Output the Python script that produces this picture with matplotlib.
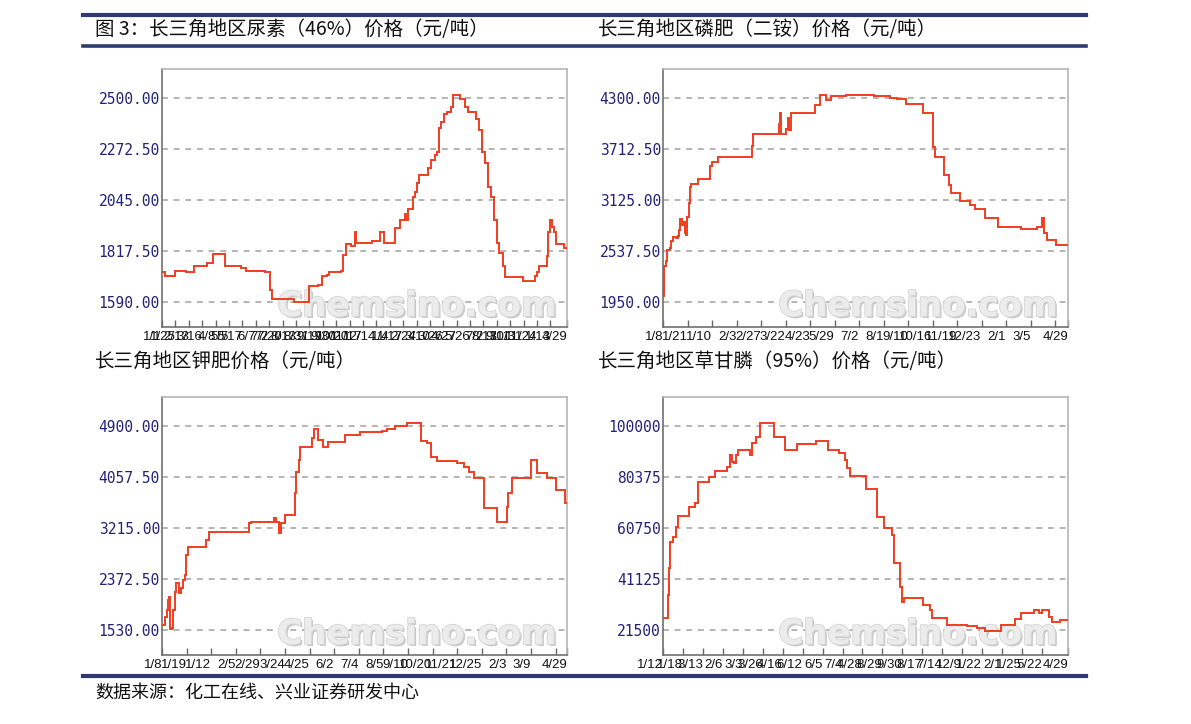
import numpy as np
import matplotlib
matplotlib.use("Agg")
import matplotlib.pyplot as plt
import matplotlib.patheffects as pe

plt.rcParams['font.family'] = ['Noto Sans CJK SC', 'DejaVu Sans']

# ---------------- data ----------------
titles = ["图 3：长三角地区尿素（46%）价格（元/吨）",
          "长三角地区磷肥（二铵）价格（元/吨）",
          "长三角地区钾肥价格（元/吨）",
          "长三角地区草甘膦（95%）价格（元/吨）"]
source = "数据来源：化工在线、兴业证券研发中心"

# Urea (46%)
urea_idx = [0, 3, 13, 24, 32, 44, 50, 62, 78, 83, 102, 107, 109, 130, 145, 154, 158, 163,
            165, 177, 179, 182, 187, 191, 192, 207, 215, 219, 230, 235, 240, 241, 243, 248,
            250, 252, 254, 263, 266, 270, 272, 274, 276, 279, 281, 285, 287, 294, 299, 302,
            310, 313, 316, 319, 322, 325, 328, 331, 333, 337, 339, 357, 368, 370, 372, 380,
            381, 383, 385, 387, 389, 397]
urea_val = [1726, 1704, 1729, 1722, 1749, 1763, 1803, 1749, 1741, 1729, 1723, 1645, 1603,
            1589, 1660, 1667, 1707, 1712, 1723, 1729, 1800, 1848, 1842, 1904, 1852, 1863,
            1904, 1852, 1922, 1956, 1983, 1956, 2005, 2060, 2082, 2119, 2156, 2186, 2223,
            2245, 2260, 2364, 2393, 2430, 2438, 2460, 2512, 2497, 2460, 2438, 2408, 2356,
            2260, 2208, 2104, 2057, 1956, 1852, 1808, 1749, 1701, 1682, 1704, 1726, 1749,
            1793, 1904, 1956, 1926, 1901, 1849, 1830]
urea_labels = ["1/1", "1/25", "2/13", "3/16", "4/8", "5/5", "5/17", "6/7", "7/2", "7/20",
               "8/13", "8/31", "9/19", "9/30", "10/20", "11/17", "12/14", "1/4", "1/17",
               "2/24", "3/10", "3/26", "4/27", "5/26", "7/2", "8/13", "9/11", "10/31",
               "11/24", "1/13", "4/29"]
urea_ticks = [1590, 1817.5, 2045, 2272.5, 2500]
urea_ylim = (1478.5, 2629.4)

# DAP
dap_idx = [0, 1, 3, 4, 7, 8, 10, 13, 15, 16, 17, 19, 21, 22, 23, 24, 26, 27, 28, 35, 46,
           48, 54, 88, 89, 115, 116, 117, 121, 123, 124, 126, 150, 155, 161, 166, 181, 208,
           224, 231, 240, 257, 267, 269, 278, 282, 284, 293, 303, 308, 318, 331, 354, 369,
           374, 376, 379, 388]
dap_val = [2023, 2360, 2417, 2551, 2570, 2647, 2704, 2685, 2712, 2781, 2903, 2838, 2876,
           2742, 2723, 2934, 3087, 3278, 3309, 3366, 3515, 3565, 3615, 3745, 3883, 4005,
           4128, 3883, 3948, 4074, 3929, 4128, 4216, 4331, 4281, 4319, 4334, 4319, 4304,
           4292, 4235, 4128, 3737, 3623, 3412, 3297, 3209, 3117, 3068, 3022, 2915, 2819,
           2792, 2811, 2915, 2742, 2666, 2609]
dap_labels = ["1/8", "1/21", "1/10", "2/3", "2/27", "3/22", "4/23", "5/29", "7/2", "8/1",
              "9/10", "10/16", "11/19", "12/23", "2/1", "3/5", "", "4/29"]
dap_ticks = [1950, 2537.5, 3125, 3712.5, 4300]
dap_ylim = (1662, 4634)

# Potash
pot_idx = [0, 3, 5, 6, 7, 8, 10, 11, 13, 14, 17, 19, 21, 23, 24, 26, 43, 46, 86, 88, 111,
           113, 116, 118, 121, 131, 132, 135, 136, 148, 150, 154, 159, 164, 181, 196, 217,
           222, 230, 242, 256, 262, 266, 272, 291, 298, 303, 308, 318, 331, 341, 342, 346,
           364, 370, 380, 389, 398]
pot_val = [1612, 1750, 1860, 2025, 2080, 1541, 1557, 1860, 2163, 2301, 2136, 2218, 2356,
           2438, 2769, 2906, 3017, 3154, 3303, 3320, 3375, 3320, 3127, 3292, 3430, 3788,
           4146, 4338, 4559, 4696, 4845, 4669, 4559, 4641, 4751, 4806, 4823, 4845, 4900,
           4955, 4652, 4614, 4382, 4327, 4283, 4228, 4146, 4036, 3540, 3320, 3568, 3788,
           4036, 4338, 4129, 4036, 3843, 3633]
pot_labels = ["1/8", "1/19", "1/12", "2/5", "2/29", "3/24", "4/25", "6/2", "7/4", "8/5",
              "9/10", "10/20", "11/21", "12/25", "2/3", "3/9", "", "4/29"]
pot_ticks = [1530, 2372.5, 3215, 4057.5, 4900]
pot_ylim = (1117, 5379)

# Glyphosate (95%)
gly_idx = [0, 5, 6, 7, 10, 13, 15, 26, 32, 35, 45, 51, 63, 66, 68, 70, 72, 74, 86, 88, 92,
           96, 110, 120, 132, 151, 163, 174, 180, 182, 185, 200, 211, 218, 226, 228, 234,
           236, 238, 257, 264, 266, 280, 300, 310, 318, 334, 348, 354, 366, 371, 374, 381,
           384, 392]
gly_val = [25990, 34970, 45230, 55230, 57160, 61260, 65370, 68700, 70500, 78320, 80500,
           82680, 84090, 88840, 86270, 85900, 88840, 90760, 88840, 93330, 95900, 101280,
           95900, 90760, 93070, 94230, 90760, 89740, 86920, 83710, 80760, 75630, 65110,
           60620, 58060, 47410, 38180, 32400, 33950, 31120, 29190, 25990, 23420, 23040,
           22140, 21240, 23420, 25600, 27900, 29190, 28170, 29190, 26370, 24700, 25350]
gly_labels = ["1/12", "1/18", "3/13", "2/6", "3/3", "3/26", "4/16", "6/12", "6/5", "7/4",
              "4/28", "8/29", "9/30", "8/17", "7/14", "12/9", "1/22", "2/1", "1/25", "5/22",
              "4/29"]
gly_ticks = [21500, 41125, 60750, 80375, 100000]
gly_ylim = (11880, 111160)

N_END = 400

# ---------------- figure ----------------
W, H = 1191, 724
fig = plt.figure(figsize=(W / 100, H / 100), dpi=100)

def fx(px):
    return px / W

def fy(py):
    return 1 - py / H

navy = '#2f3a70'
line_red = '#ef3d20'
tick_navy = '#22227a'

# decorative horizontal rules
for y, lw in [(15, 3.0), (45.5, 2.6), (676, 3.0)]:
    fig.add_artist(plt.Line2D([fx(83), fx(1086)], [fy(y), fy(y)], color=navy, lw=lw))

# titles
tfs = 14
fig.text(fx(95), fy(30), titles[0], fontsize=tfs, va='center', ha='left', color='#111')
fig.text(fx(598), fy(30), titles[1], fontsize=tfs, va='center', ha='left', color='#111')
fig.text(fx(95), fy(362), titles[2], fontsize=tfs, va='center', ha='left', color='#111')
fig.text(fx(598), fy(362), titles[3], fontsize=tfs, va='center', ha='left', color='#111')
fig.text(fx(95), fy(693), source, fontsize=13, va='center', ha='left', color='#111')

panels = [
    (162, 69, urea_idx, urea_val, urea_labels, urea_ticks, urea_ylim, 13.23, '%.2f'),
    (663, 69, dap_idx, dap_val, dap_labels, dap_ticks, dap_ylim, 24.2, '%.2f'),
    (162, 397, pot_idx, pot_val, pot_labels, pot_ticks, pot_ylim, 24.3, '%.2f'),
    (663, 397, gly_idx, gly_val, gly_labels, gly_ticks, gly_ylim, 19.7, '%d'),
]

for (lpx, tpx, xi, yv, labs, yt, ylim, step, fmt) in panels:
    ax = fig.add_axes([fx(lpx), fy(tpx + 258), 405 / W, 258 / H])
    ax.set_xlim(0, N_END)
    ax.set_ylim(*ylim)
    # grid
    for v in yt:
        ax.axhline(v, color='#a8a8a8', lw=1.2, ls=(0, (3.5, 3.5)), zorder=1)
    # watermark
    ax.text(0.975, 0.08, "Chemsino.com", transform=ax.transAxes, ha='right', va='center',
            fontsize=24.5, fontweight='heavy', family='DejaVu Sans', color='#ececec', zorder=2,
            path_effects=[pe.SimplePatchShadow(offset=(1.5, -1.5), shadow_rgbFace='#c8c8c8', alpha=1.0),
                          pe.withStroke(linewidth=1.4, foreground='#d8d8d8')])
    xs = list(xi) + [N_END]
    ys = list(yv) + [yv[-1]]
    ax.plot(xs, ys, drawstyle='steps-post', color=line_red, lw=1.4, zorder=3,
            solid_joinstyle='miter')
    # y ticks
    ax.set_yticks(yt)
    ax.set_yticklabels([fmt % v for v in yt], family='DejaVu Sans Mono', fontsize=10.5,
                       color=tick_navy)
    ax.tick_params(axis='y', length=0, pad=1.5)
    # x ticks
    n = len(labs) - 1
    pos = [k * step for k in range(n)] + [N_END]
    ax.set_xticks(pos)
    ax.set_xticklabels(labs, family='Liberation Sans', fontsize=9.5, color='#111111')
    ax.tick_params(axis='x', direction='in', length=5, width=1, color='#666666', pad=3)
    for lab in ax.get_xticklabels():
        lab.set_horizontalalignment('right')
    # spines
    ax.spines['left'].set_color('#707070')
    ax.spines['bottom'].set_color('#707070')
    ax.spines['top'].set_color('#b5b5b5')
    ax.spines['right'].set_color('#b5b5b5')
    for s in ax.spines.values():
        s.set_linewidth(1.2)

fig.savefig('out.png', dpi=100)
